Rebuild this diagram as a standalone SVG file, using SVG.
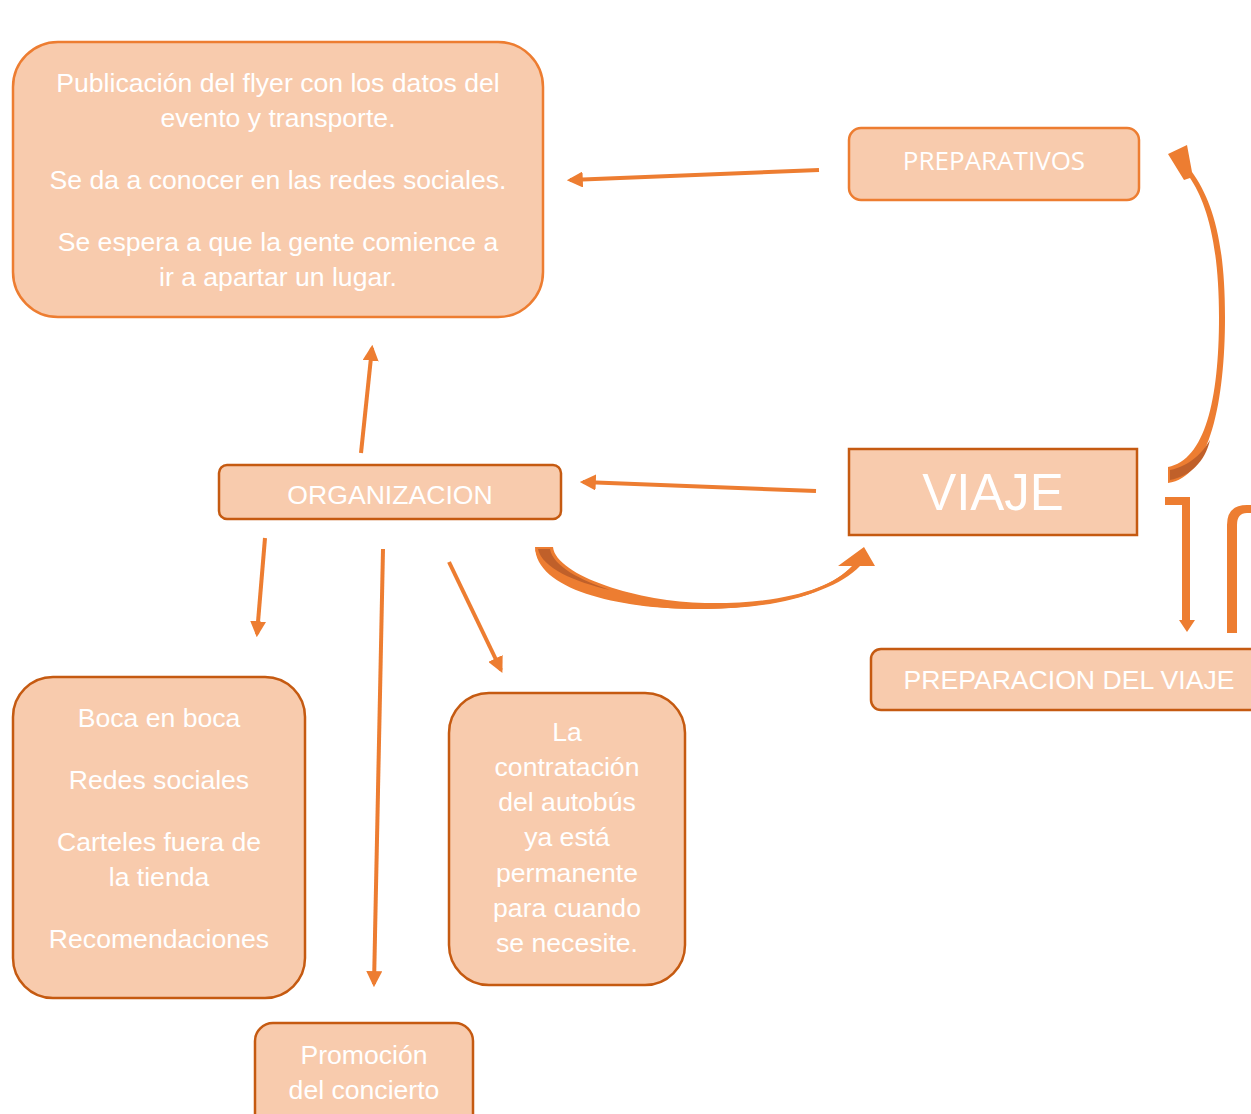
<svg xmlns="http://www.w3.org/2000/svg" width="1251" height="1114" viewBox="0 0 1251 1114">
<style>
.box{fill:#F8CBAD;stroke:#C55A11;stroke-width:2.5}
.boxl{fill:#F8CBAD;stroke:#ED7D31;stroke-width:2.5}
.t{font-family:"Liberation Sans",Arial,sans-serif;font-size:26.6px;fill:#FFFFFF;text-anchor:middle}
.c{font-family:"Open Sans","Noto Sans",sans-serif;font-size:26px;fill:#FFFFFF;text-anchor:middle}
.ln{stroke:#ED7D31;stroke-width:4;fill:none;marker-end:url(#ah)}
.blk{fill:#ED7D31}
.dk{fill:#C0602A}
</style>
<defs>
<marker id="ah" viewBox="0 0 10 10" refX="8" refY="5" markerWidth="4" markerHeight="4" orient="auto" markerUnits="strokeWidth">
<path d="M0,0 L10,5 L0,10 z" fill="#ED7D31"/>
</marker>
</defs>

<g id="connectors">
<line class="ln" x1="819" y1="170" x2="570" y2="180"/>
<line class="ln" x1="816" y1="491" x2="583" y2="482"/>
<line class="ln" x1="361" y1="453" x2="372" y2="348"/>
<line class="ln" x1="265" y1="538" x2="257" y2="634"/>
<line class="ln" x1="383" y1="549" x2="374" y2="984"/>
<line class="ln" x1="449" y1="562" x2="501" y2="670"/>
<!-- curved arrow ORGANIZACION -> VIAJE -->
<path class="blk" d="M535,547 C538,590 640,611 705,607 C780,604 830,590 852,566 L838,566 L864,547 L875,566 L860,566 C835,592 780,607 705,609 C630,610 546,592 535,547 Z"/>
<path class="blk" d="M535,547 L553,547 C556,576 640,602 705,603 C780,604 830,590 852,566 C830,594 780,608 705,609 C620,610 536,590 535,547 Z"/>
<path class="dk" d="M538,549 L550,549 C553,566 580,580 610,590 C575,582 542,568 538,549 Z"/>
<!-- curved arrow VIAJE -> PREPARATIVOS -->
<path class="blk" d="M1168,467 C1205,460 1219,400 1219,317 C1219,240 1205,200 1190,178 L1184,180 L1168,154 L1187,145 L1192,172 C1212,200 1225,240 1225,317 C1225,400 1210,478 1168,483 Z"/>
<path class="dk" d="M1170,470 C1190,466 1203,452 1210,440 C1205,462 1190,476 1170,480 Z"/>
<!-- bent arrow down -->
<path class="blk" d="M1165,497 L1190,497 L1190,620 L1195,620 L1187,632 L1179,620 L1182,620 L1182,505 L1165,505 Z"/>
<!-- bent arrow up -->
<path class="blk" d="M1227,633 L1227,525 Q1227,505 1247,505 L1251,505 L1251,513 L1247,513 Q1237,513 1237,525 L1237,633 Z"/>
</g>

<g id="n-publicacion">
<rect class="boxl" x="13" y="42" width="530" height="275" rx="45"/>
<text class="t" x="278" y="92">Publicación del flyer con los datos del</text>
<text class="t" x="278" y="127">evento y transporte.</text>
<text class="t" x="278" y="189">Se da a conocer en las redes sociales.</text>
<text class="t" x="278" y="251">Se espera a que la gente comience a</text>
<text class="t" x="278" y="286">ir a apartar un lugar.</text>
</g>

<g id="n-preparativos">
<rect class="boxl" x="849" y="128" width="290" height="72" rx="12"/>
<text class="c" x="994" y="170">PREPARATIVOS</text>
</g>

<g id="n-viaje">
<rect class="box" x="849" y="449" width="288" height="86"/>
<text class="t" x="993" y="510" style="font-size:51px">VIAJE</text>
</g>

<g id="n-organizacion">
<rect class="box" x="219" y="465" width="342" height="54" rx="8"/>
<text class="t" x="390" y="504">ORGANIZACION</text>
</g>

<g id="n-preparacion">
<rect class="box" x="871" y="649" width="395" height="61" rx="10"/>
<text class="t" x="1069" y="689">PREPARACION DEL VIAJE</text>
</g>

<g id="n-boca">
<rect class="box" x="13" y="677" width="292" height="321" rx="40"/>
<text class="t" x="159" y="727">Boca en boca</text>
<text class="t" x="159" y="789">Redes sociales</text>
<text class="t" x="159" y="851">Carteles fuera de</text>
<text class="t" x="159" y="886">la tienda</text>
<text class="t" x="159" y="948">Recomendaciones</text>
</g>

<g id="n-contratacion">
<rect class="box" x="449" y="693" width="236" height="292" rx="40"/>
<text class="t" x="567" y="741">La</text>
<text class="t" x="567" y="776">contratación</text>
<text class="t" x="567" y="811">del autobús</text>
<text class="t" x="567" y="846">ya está</text>
<text class="t" x="567" y="882">permanente</text>
<text class="t" x="567" y="917">para cuando</text>
<text class="t" x="567" y="952">se necesite.</text>
</g>

<g id="n-promocion">
<rect class="box" x="255" y="1023" width="218" height="110" rx="18"/>
<text class="t" x="364" y="1064">Promoción</text>
<text class="t" x="364" y="1099">del concierto</text>
</g>
</svg>
